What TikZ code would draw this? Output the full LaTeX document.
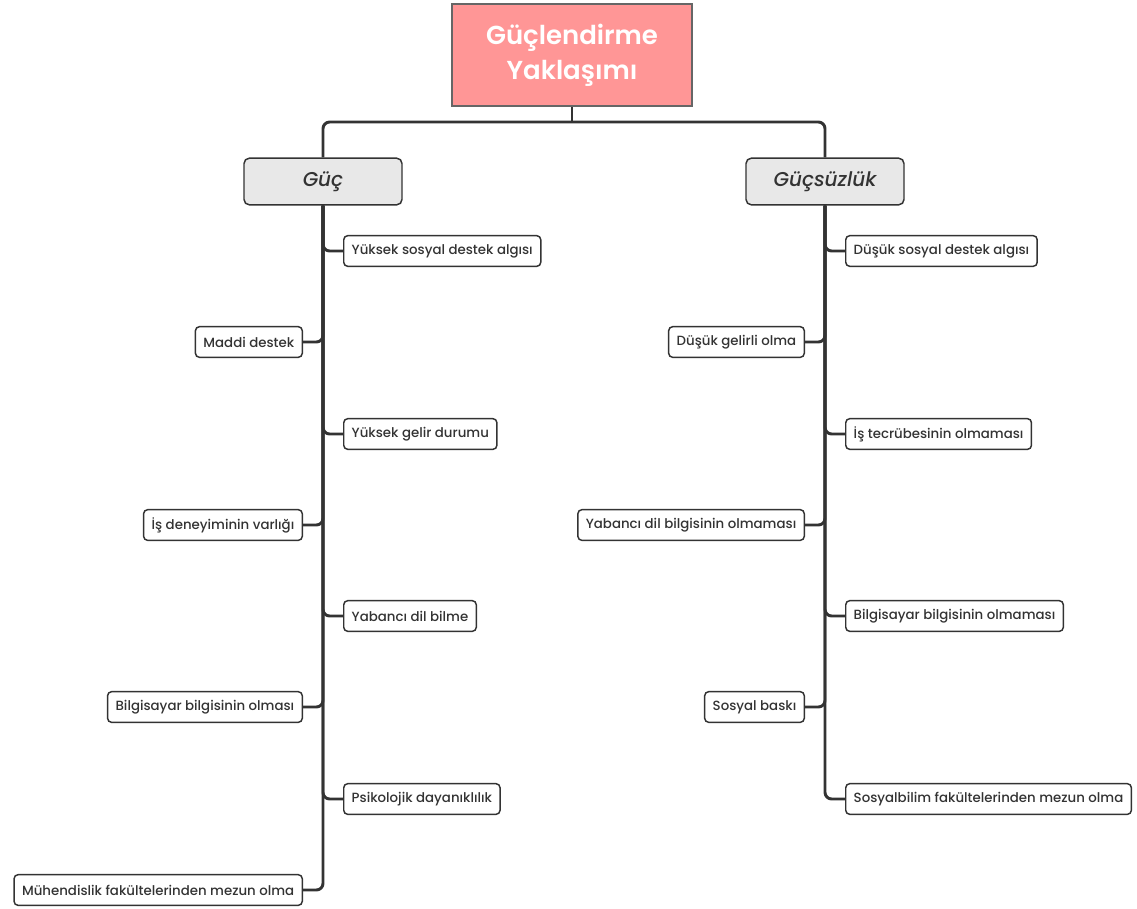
\documentclass[tikz,border=0pt]{standalone}
\usepackage{fontspec}
\setmainfont{Poppins}[UprightFont=* Medium, ItalicFont=* Medium Italic, BoldFont=* SemiBold]
\usetikzlibrary{positioning}
\definecolor{rootpink}{HTML}{FF9696}
\definecolor{linegray}{HTML}{333333}
\definecolor{branchgray}{HTML}{E8E8E8}
\tikzset{
  rootbox/.style={draw=gray!80!black, line width=1.4pt, fill=rootpink, minimum width=180pt,
    minimum height=77pt, text=white, align=center, font=\bfseries\fontsize{19.5}{26}\selectfont},
  branchbox/.style={draw=linegray, line width=1.1pt, rounded corners=4pt, fill=branchgray,
    minimum width=118.5pt, minimum height=35pt, text=linegray, font=\itshape\fontsize{15}{17}\selectfont},
  leaf/.style={draw=linegray, line width=1.1pt, rounded corners=3pt, fill=white,
    minimum height=23pt, inner xsep=6pt, text=linegray, font=\fontsize{10}{11}\selectfont},
  conn/.style={draw=linegray, line width=2.2pt, rounded corners=5pt}
}
\begin{document}
\begin{tikzpicture}[x=0.75pt,y=-0.75pt]
\useasboundingbox (0,0) rectangle (1137,908);
% top of the tree
\node[rootbox] (root) at (572,55) {Güçlendirme\\Yaklaşımı};
\coordinate (hub) at (572,122);
\node[branchbox] (guc) at (323,181.5) {Güç};
\node[branchbox] (gucsuz) at (825,181.5) {Güçsüzlük};
% Güç leaves
\node[leaf, anchor=west] (g1) at (343,251) {Yüksek sosyal destek algısı};
\node[leaf, anchor=east] (g2) at (303,342) {Maddi destek};
\node[leaf, anchor=west] (g3) at (343,434) {Yüksek gelir durumu};
\node[leaf, anchor=east] (g4) at (303,525) {İş deneyiminin varlığı};
\node[leaf, anchor=west] (g5) at (343,616) {Yabancı dil bilme};
\node[leaf, anchor=east] (g6) at (303,707) {Bilgisayar bilgisinin olması};
\node[leaf, anchor=west] (g7) at (343,799) {Psikolojik dayanıklılık};
\node[leaf, anchor=east] (g8) at (303,890) {Mühendislik fakültelerinden mezun olma};
% Güçsüzlük leaves
\node[leaf, anchor=west] (s1) at (845,251) {Düşük sosyal destek algısı};
\node[leaf, anchor=east] (s2) at (805,342) {Düşük gelirli olma};
\node[leaf, anchor=west] (s3) at (845,434) {İş tecrübesinin olmaması};
\node[leaf, anchor=east] (s4) at (805,525) {Yabancı dil bilgisinin olmaması};
\node[leaf, anchor=west] (s5) at (845,616) {Bilgisayar bilgisinin olmaması};
\node[leaf, anchor=east] (s6) at (805,707) {Sosyal baskı};
\node[leaf, anchor=west] (s7) at (845,799) {Sosyalbilim fakültelerinden mezun olma};
% connectors
\draw[conn] (root.south) -- (hub);
\draw[conn] (guc.north) |- (hub) -| (gucsuz.north);
\foreach \n in {g1,g3,g5,g7} \draw[conn] (guc.south) |- (\n.west);
\foreach \n in {g2,g4,g6,g8} \draw[conn] (guc.south) |- (\n.east);
\foreach \n in {s1,s3,s5,s7} \draw[conn] (gucsuz.south) |- (\n.west);
\foreach \n in {s2,s4,s6} \draw[conn] (gucsuz.south) |- (\n.east);
\end{tikzpicture}
\end{document}
